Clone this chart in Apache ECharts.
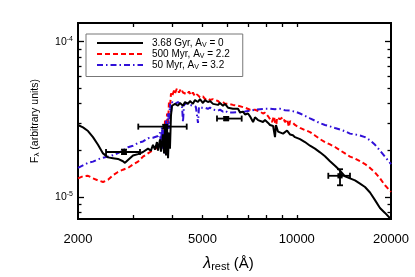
<!DOCTYPE html>
<html><head><meta charset="utf-8">
<script src="https://cdn.jsdelivr.net/npm/echarts@6/dist/echarts.min.js"></script>
<style>html,body{margin:0;padding:0;background:#fff}#c{width:415px;height:277px}</style>
</head><body><div id="c"></div>
<script>
const FONT = '"Liberation Sans", Arial, Helvetica, sans-serif';
// rest wavelength (Å), flux in units of 1e-5 (arbitrary)
const old368 = [[2000,2.91],[2075,2.81],[2153,2.66],[2233,2.43],[2317,2.17],[2404,1.91],[2494,1.80],[2587,1.78],[2684,1.76],[2784,1.70],[2826,1.66],[2889,1.73],[2997,1.85],[3110,1.89],[3226,1.95],[3347,2.05],[3420,1.99],[3472,2.17],[3524,2.02],[3575,2.26],[3602,1.99],[3656,2.35],[3682,1.96],[3737,2.53],[3766,1.91],[3793,2.75],[3822,1.85],[3850,2.83],[3879,1.78],[3906,2.60],[3934,2.05],[3964,3.36],[3994,3.87],[4053,3.76],[4083,3.98],[4173,3.87],[4235,4.03],[4330,3.87],[4394,4.09],[4492,3.98],[4558,4.15],[4658,3.98],[4728,4.21],[4835,4.09],[4905,4.27],[5016,4.03],[5089,4.21],[5200,4.09],[5282,4.15],[5400,3.98],[5480,4.09],[5600,3.92],[5684,4.03],[5810,3.87],[5897,3.98],[6030,3.76],[6119,3.87],[6255,3.70],[6346,3.60],[6490,3.70],[6586,3.50],[6730,3.55],[6832,3.40],[6986,3.45],[7089,3.31],[7250,3.04],[7354,3.26],[7520,3.13],[7630,3.21],[7800,3.04],[7916,3.13],[8100,3.00],[8212,2.91],[8400,2.87],[8520,2.43],[8580,2.91],[8710,2.64],[8838,2.68],[9040,2.56],[9169,2.50],[9310,2.68],[9513,2.53],[9720,2.50],[9868,2.43],[10240,2.36],[10620,2.26],[11022,2.14],[11432,2.05],[11863,1.94],[12305,1.83],[12770,1.70],[13245,1.59],[13744,1.48],[14257,1.36],[14792,1.32],[15347,1.28],[15924,1.22],[16518,1.16],[17140,1.07],[17782,0.955],[18440,0.85],[19137,0.79],[20000,0.72]];
const mid500 = [[2000,1.32],[2075,1.36],[2153,1.37],[2233,1.32],[2317,1.28],[2404,1.25],[2494,1.29],[2587,1.38],[2684,1.45],[2784,1.50],[2889,1.54],[2997,1.62],[3110,1.69],[3226,1.82],[3347,1.91],[3472,2.00],[3602,2.10],[3656,2.20],[3709,2.05],[3737,2.53],[3766,2.20],[3793,3.11],[3822,2.32],[3850,3.45],[3879,2.91],[3906,4.15],[3934,3.76],[3964,4.65],[3994,4.45],[4053,4.85],[4083,4.65],[4140,5.00],[4204,4.71],[4267,4.98],[4330,4.71],[4394,4.85],[4460,4.58],[4525,4.78],[4592,4.52],[4658,4.71],[4728,4.45],[4800,4.58],[4905,4.39],[5016,4.45],[5089,4.27],[5200,4.33],[5282,4.21],[5400,4.27],[5480,4.15],[5600,4.15],[5684,4.03],[5810,4.09],[5897,3.98],[6030,3.98],[6119,3.87],[6255,3.92],[6346,3.81],[6490,3.87],[6586,3.76],[6832,3.76],[7089,3.65],[7354,3.65],[7630,3.55],[7800,3.45],[7916,3.50],[8100,3.31],[8212,3.40],[8330,3.04],[8460,3.31],[8580,2.75],[8650,3.26],[8838,3.17],[9040,3.26],[9169,3.04],[9310,3.17],[9440,2.83],[9513,3.08],[9720,3.00],[9868,2.91],[10240,2.79],[10620,2.70],[11022,2.62],[11432,2.49],[11863,2.36],[12305,2.26],[12770,2.18],[13245,2.10],[13744,2.00],[14257,1.91],[14792,1.82],[15347,1.77],[15924,1.70],[16518,1.63],[17140,1.54],[17782,1.44],[18440,1.32],[19137,1.19],[20000,1.08]];
const young50 = [[2000,1.54],[2075,1.60],[2153,1.66],[2233,1.69],[2317,1.75],[2404,1.79],[2494,1.82],[2587,1.86],[2684,1.92],[2784,2.00],[2889,2.09],[2997,2.14],[3110,2.23],[3226,2.28],[3347,2.39],[3472,2.41],[3602,2.47],[3656,2.60],[3682,2.20],[3709,2.83],[3737,2.05],[3766,2.75],[3793,1.91],[3822,3.11],[3850,2.20],[3879,3.45],[3906,2.75],[3934,3.98],[3964,3.45],[3994,4.09],[4083,3.98],[4173,4.09],[4235,3.98],[4298,3.87],[4330,3.04],[4362,3.92],[4460,4.03],[4558,3.92],[4658,3.87],[4760,3.81],[4835,3.00],[4870,3.81],[4980,3.76],[5089,3.76],[5200,3.70],[5282,3.76],[5400,3.65],[5480,3.70],[5600,3.60],[5684,3.65],[5810,3.55],[5897,3.60],[6030,3.50],[6119,3.55],[6255,3.50],[6346,3.55],[6586,3.52],[6832,3.55],[7089,3.60],[7354,3.65],[7630,3.68],[7916,3.70],[8212,3.70],[8520,3.68],[8838,3.70],[9169,3.62],[9513,3.60],[9868,3.55],[10240,3.45],[10620,3.33],[11022,3.21],[11432,3.10],[11863,2.99],[12305,2.91],[12770,2.85],[13245,2.78],[13744,2.72],[14257,2.65],[14792,2.56],[15347,2.53],[15924,2.49],[16518,2.43],[17140,2.32],[17782,2.17],[18440,1.99],[19137,1.82],[20000,1.63]];
// photometry: [wave, flux, waveLo, waveHi, fluxLo, fluxHi]
const photometry = [[2806,1.95,2458,3156,1.89,2.02],[3800,2.84,3116,4450,2.76,2.92],[5950,3.20,5560,6668,3.12,3.28],[13744,1.37,12610,14792,1.19,1.51]];
const seriesNames = ['3.68 Gyr, A_V = 0','500 Myr, A_V = 2.2','50 Myr, A_V = 3.2'];
const legendRich = {'3.68 Gyr, A_V = 0':'{a|3.68 Gyr, A}{s|V}{b| = 0}','500 Myr, A_V = 2.2':'{a|500 Myr, A}{s|V}{b| = 2.2}','50 Myr, A_V = 3.2':'{a|50 Myr, A}{s|V}{b| = 3.2}'};
const xLabels = [2000,5000,10000,20000];
const xTicks = [3000,4000,5000,6000,7000,8000,9000,10000];
const yMajor = [1,10];
const yMinor = [0.8,0.9,2,3,4,5,6,7,8,9];
const yMin = 0.722, yMax = 13.2;

const chart = echarts.init(document.getElementById('c'), null, {renderer:'canvas'});
const axLine = {show:true, onZero:false, lineStyle:{color:'#000', width:2}};
function xAx(pos, withLabels){
  return {type:'log', logBase:10, min:2000, max:20000, position:pos,
    axisLine:axLine, splitLine:{show:false},
    axisTick:{show:true, inside:true, length:4, customValues:xTicks, lineStyle:{color:'#000', width:1.3}},
    axisLabel: withLabels ? {show:true, customValues:xLabels, margin:14, fontSize:13, color:'#000', fontFamily:FONT, formatter: v => String(Math.round(v))} : {show:false},
    name: withLabels ? '{l|λ}{r|rest} (Å)' : '', nameLocation:'middle', nameGap:36,
    nameTextStyle:{fontSize:15, color:'#000', fontFamily:FONT, padding:[0,12,0,0],
      rich:{l:{fontSize:16, fontStyle:'italic', fontFamily:FONT, color:'#000'}, r:{fontSize:11, fontFamily:FONT, color:'#000', padding:[6,0,0,0]}}}
  };
}
function yAx(pos, ticks, len, withLabels){
  return {type:'log', logBase:10, min:yMin, max:yMax, position:pos,
    axisLine:axLine, splitLine:{show:false},
    axisTick:{show:true, inside:true, length:len, customValues:ticks, lineStyle:{color:'#000', width:1.3}},
    axisLabel: withLabels ? {show:true, customValues:yMajor, margin:5, color:'#000', fontFamily:FONT,
      formatter: v => (v >= 5 ? '{b|10}{s|-4}' : '{b|10}{s|-5}'),
      rich:{b:{fontSize:10.5, fontFamily:FONT, color:'#000'}, s:{fontSize:7, fontFamily:FONT, color:'#000', padding:[0,0,6,0]}}} : {show:false},
    name: withLabels ? 'F{s|λ} (arbitrary units)' : '', nameLocation:'middle', nameGap:37,
    nameTextStyle:{fontSize:10.5, color:'#000', fontFamily:FONT,
      rich:{s:{fontSize:8, fontFamily:FONT, color:'#000', padding:[4,0,0,0]}}}
  };
}
function renderErr(params, api){
  const c = api.coord([api.value(0), api.value(1)]);
  const l = api.coord([api.value(2), api.value(1)]);
  const r = api.coord([api.value(3), api.value(1)]);
  const b = api.coord([api.value(0), api.value(4)]);
  const t = api.coord([api.value(0), api.value(5)]);
  const cap = 3, s = 2.6;
  const st = {stroke:'#000', lineWidth:1.8};
  return {type:'group', children:[
    {type:'line', shape:{x1:l[0],y1:l[1],x2:r[0],y2:r[1]}, style:st},
    {type:'line', shape:{x1:l[0],y1:l[1]-cap,x2:l[0],y2:l[1]+cap}, style:st},
    {type:'line', shape:{x1:r[0],y1:r[1]-cap,x2:r[0],y2:r[1]+cap}, style:st},
    {type:'line', shape:{x1:b[0],y1:b[1],x2:t[0],y2:t[1]}, style:st},
    {type:'line', shape:{x1:b[0]-cap,y1:b[1],x2:b[0]+cap,y2:b[1]}, style:st},
    {type:'line', shape:{x1:t[0]-cap,y1:t[1],x2:t[0]+cap,y2:t[1]}, style:st},
    {type:'rect', shape:{x:c[0]-s,y:c[1]-s,width:2*s,height:2*s}, style:{fill:'#000'}}
  ]};
}
const lineBase = {type:'line', symbol:'none', showSymbol:false, xAxisIndex:0, yAxisIndex:0, animation:false, smooth:false};
chart.setOption({
  animation:false,
  backgroundColor:'#fff',
  grid:{left:78, right:24, top:23, bottom:48, containLabel:false},
  xAxis:[xAx('bottom', true), xAx('top', false)],
  yAxis:[yAx('left', yMajor, 6, true), yAx('left', yMinor, 3.5, false), yAx('right', yMajor, 6, false), yAx('right', yMinor, 3.5, false)],
  legend:{data:seriesNames, orient:'vertical', left:86, top:34, padding:[4,13,6,10],
    itemWidth:46, itemHeight:10, itemGap:0.5, backgroundColor:'#fff', borderColor:'#777', borderWidth:1,
    itemStyle:{opacity:0, borderWidth:0},
    formatter: n => legendRich[n],
    textStyle:{fontSize:10, color:'#000', fontFamily:FONT,
      rich:{a:{fontSize:10, fontFamily:FONT, color:'#000', padding:[0,0,0,4]}, b:{fontSize:10, fontFamily:FONT, color:'#000'}, s:{fontSize:7, fontFamily:FONT, color:'#000', padding:[4,0,0,0]}}}
  },
  series:[
    Object.assign({}, lineBase, {name:seriesNames[1], data:mid500, z:2, lineStyle:{color:'#ff0000', width:2, type:[5,3]}, itemStyle:{color:'#ff0000'}}),
    Object.assign({}, lineBase, {name:seriesNames[2], data:young50, z:3, lineStyle:{color:'#3010d8', width:2, type:[6,3,1.5,3]}, itemStyle:{color:'#3010d8'}}),
    Object.assign({}, lineBase, {name:seriesNames[0], data:old368, z:4, lineStyle:{color:'#000', width:2}, itemStyle:{color:'#000'}}),
    {type:'custom', name:'phot', xAxisIndex:0, yAxisIndex:0, data:photometry, renderItem:renderErr, z:5,
      encode:{x:[0,2,3], y:[1,4,5]}, silent:true}
  ]
});
</script></body></html>
